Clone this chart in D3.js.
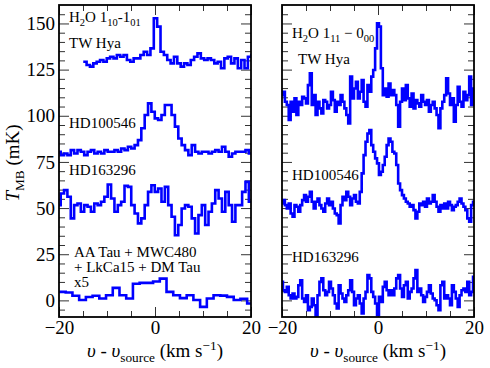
<!DOCTYPE html>
<html><head><meta charset="utf-8">
<script src="https://cdn.jsdelivr.net/npm/d3@7"></script>
<style>
html,body{margin:0;padding:0;background:#fff;}
svg text{font-family:"Liberation Serif","Times New Roman",serif;fill:#000;}
</style></head>
<body><svg id="c" width="490" height="368"></svg>
<script>
// ---------- data ----------
const xDomain = [-20, 20];
const yDomain = [-9, 160];
const xTickLabels = [-20, 0, 20];
const yTickLabels = [0, 25, 50, 75, 100, 125, 150];

// Left panel: H2O 1_10-1_01 (channel width 0.7 km/s)
const lTwHyaStart = -14.6, lChan = 0.7;
const lTwHya = [129.3,127.5,126.6,128.4,129.3,130.2,129.3,131.1,132,131.1,132.9,132,132.9,130.2,129.3,131.1,131.1,132.9,134.7,132.9,136.5,152.8,148.3,134.7,132.9,130.2,128.4,132,128.4,126.6,128.4,127.5,130.2,132,133.8,131.1,130.2,131.1,130.2,128.4,129.3,125.7,131.1,132,128.4,131.1,125.7,130.2,125.7,132,132.9];
const lStart = -20;
const lHD100546 = [80.5,78.7,79.6,78.7,81.4,79.6,81.4,80.5,78.7,80.5,81.4,79.6,80.5,79.6,81.4,80.5,80.5,81.4,80.5,82.3,81.4,83.2,82.3,84.1,86.8,93.2,100.4,106.7,102.2,98.6,97.7,100.4,105.8,105.8,100.4,94.1,87.7,84.1,81.4,78.7,84.1,80.5,79.6,80.5,80.5,79.6,80.5,81.4,80.5,83.2,80.5,77.8,79.6,80.5,80.5,80.5,81.4,79.6];
const lHD163296 = [51.6,57.9,59.7,56.1,44.4,51.6,52.5,48,51.6,50.7,48,52.5,51.6,53.4,56.1,62.8,55.2,48,51.6,53.4,62.1,61.5,51.6,47.1,41.7,44.4,51.6,58.8,62.4,58.8,60.6,53.4,61.5,51.6,45.3,35.3,40.8,49.8,51.6,50.7,44.4,36.2,46.2,51.6,40.8,48,52.5,59.7,55.2,48,58.8,51.6,42.6,51.6,51.6,58.8,64.2,53.4];
// Stacked AA Tau + MWC480 + LkCa15 + DM Tau (x5), channel width 1.4 km/s
const lStackStart = -19.3, lStackChan = 1.4;
const lStack = [4.6,4.3,2.5,0.2,1.8,2.5,1.0,2.8,6.8,2.8,1.0,9.0,9.5,9.5,10.2,11.8,4.6,2.8,1.2,2.8,0.2,-3.5,1.0,2.8,2.6,1.9,0.2,0.8,-1.7];

// Right panel: H2O 1_11-0_00 (channel width 0.4 km/s)
const rStart = -20, rChan = 0.4;
const rTwHya = [111.2,113,107.6,105.8,97.7,107.6,102.2,109.4,100.4,107.6,105.8,110.3,109.4,106.7,116.6,123,105.8,111.2,100.4,107.6,104,101.3,108.5,107.6,104,105.8,113,108.5,102.2,107.6,105.8,111.2,107.6,104,100.4,95.9,121.2,109.4,114.8,118.4,109.4,113,119.3,107.6,104.9,116.6,113,121.2,124.8,136.5,150.1,148.3,125.7,111.2,114.8,110.3,117.5,111.2,113.9,111.2,105.8,94.1,107.6,114.8,108.5,116.6,109.4,104.9,112.1,104,108.5,106.7,104.9,111.2,107.6,105.8,108.5,102.2,105.8,107.6,104,100.4,93.2,104,107.6,111.2,120.3,112.1,105.8,109.4,96.8,105.8,115.7,107.6,104.9,113,108.5,111.2,121.2,105.8,114.8];
const rHD100546 = [52.5,54.3,51.6,49.8,52.5,47.1,45.3,51.6,50.7,48,51.6,54.3,57,53.4,56.1,58.8,53.4,49.8,53.4,55.2,51.6,49.8,48,52.5,55.2,51.6,53.4,49.8,47.1,46.2,41.7,51.6,56.1,54.3,58.8,56.1,51.6,55.2,57,53.4,52.5,58.8,68.8,78.7,85.9,90.4,92.2,84.1,80.5,76.9,74.2,67.9,69.7,73.3,77.8,84.1,87.7,85.9,80.5,79.6,73.3,63.3,59.7,57,55.2,53.4,52.5,50.7,51.6,48.9,44.4,48,52.5,51.6,53.4,50.7,55.2,52.5,53.4,57,53.4,50.7,48,51.6,49.8,52.5,49.8,53.4,51.6,48.9,50.7,51.6,53.4,55.2,52.5,50.7,48.9,44.4,42.6,51.6,53.4];
const rHD163296 = [10,5.5,4.6,7.3,2.8,1,3.7,1,1.9,8.2,10.9,1,-0.8,2.8,-5.3,-3.5,1,-2.6,-9.8,2.8,10,11.9,5.5,2.8,4.6,10,6.4,2.8,-1.7,-4.4,8.2,3.7,1,-0.8,2.8,5.5,10.9,4.6,-2.6,1,2.8,-1.7,-7.1,1,4.6,13.7,11.9,4.6,1.9,-1.7,-8,1.9,-0.8,7.3,10,5.5,2.8,5.5,2.8,6.4,11.9,13.7,6.4,1.9,8.2,10,1,4.6,6.4,11.9,16.4,4.6,6.4,2.8,-0.8,1.9,4.6,8.2,3.7,1,0.1,-2.6,-5.3,8.2,10,1,2.8,1,-2.6,8.2,4.6,1,-3.5,2.8,5.5,6.4,4.6,10,2.8,4.6,12.8];

// ---------- drawing ----------
const svg = d3.select('#c');
const yTop = 5, yBottom = 317;
const y = d3.scaleLinear().domain(yDomain).range([yBottom, yTop]);
const panels = [
  {x0: 59, x1: 251, labelsY: true, id: 'L',
   series: [
     {start: lTwHyaStart, dv: lChan, vals: lTwHya},
     {start: lStart, dv: lChan, vals: lHD100546},
     {start: lStart, dv: lChan, vals: lHD163296},
     {start: lStackStart, dv: lStackChan, vals: lStack}
   ]},
  {x0: 282, x1: 474, labelsY: false, id: 'R',
   series: [
     {start: rStart, dv: rChan, vals: rTwHya},
     {start: rStart, dv: rChan, vals: rHD100546},
     {start: rStart, dv: rChan, vals: rHD163296}
   ]}
];

function stepPoints(s) {
  const pts = [];
  s.vals.forEach((v, i) => {
    const c = s.start + i * s.dv;
    pts.push([c - s.dv / 2, v], [c + s.dv / 2, v]);
  });
  return pts;
}

function rich(sel, parts, size) {
  let shift = 0;
  parts.forEach(p => {
    const ts = sel.append('tspan').text(p.t);
    const target = p.sub ? size * 0.28 : p.sup ? -size * 0.38 : 0;
    if (target - shift !== 0) ts.attr('dy', target - shift);
    shift = target;
    if (p.sub || p.sup) ts.attr('font-size', size * 0.7);
    if (p.it) ts.attr('font-style', 'italic');
  });
}

const majorLen = 10, minorLen = 6;
const yMinor = d3.range(-5, 160, 5).filter(v => v % 25 !== 0);
const xMinor = d3.range(-15, 20, 5).filter(v => v % 20 !== 0);

panels.forEach(p => {
  const x = d3.scaleLinear().domain(xDomain).range([p.x0, p.x1]);
  const g = svg.append('g');
  svg.append('clipPath').attr('id', 'clip' + p.id)
    .append('rect').attr('x', p.x0).attr('y', yTop).attr('width', p.x1 - p.x0).attr('height', yBottom - yTop);

  const tickStyle = a => {
    a.select('.domain').remove();
    a.selectAll('.tick line').attr('stroke', '#333').attr('stroke-width', 1);
  };
  const yl = g.append('g').attr('transform', `translate(${p.x0},0)`)
    .call(d3.axisLeft(y).tickValues(yTickLabels).tickSize(-majorLen).tickPadding(4)
      .tickFormat(p.labelsY ? d3.format('d') : ''));
  tickStyle(yl);
  yl.selectAll('text').attr('font-size', 19).attr('font-family', '"Liberation Serif",serif').attr('fill', '#000');
  g.append('g').attr('transform', `translate(${p.x0},0)`)
    .call(d3.axisLeft(y).tickValues(yMinor).tickSize(-minorLen).tickFormat('')).call(tickStyle);
  g.append('g').attr('transform', `translate(${p.x1},0)`)
    .call(d3.axisRight(y).tickValues(yTickLabels).tickSize(-majorLen).tickFormat('')).call(tickStyle);
  g.append('g').attr('transform', `translate(${p.x1},0)`)
    .call(d3.axisRight(y).tickValues(yMinor).tickSize(-minorLen).tickFormat('')).call(tickStyle);
  const xb = g.append('g').attr('transform', `translate(0,${yBottom})`)
    .call(d3.axisBottom(x).tickValues(xTickLabels).tickSize(-majorLen).tickPadding(3)
      .tickFormat(d => d < 0 ? '\u2212' + Math.abs(d) : String(d)));
  tickStyle(xb);
  xb.selectAll('text').attr('font-size', 19).attr('font-family', '"Liberation Serif",serif').attr('fill', '#000');
  g.append('g').attr('transform', `translate(0,${yBottom})`)
    .call(d3.axisBottom(x).tickValues(xMinor).tickSize(-minorLen).tickFormat('')).call(tickStyle);
  g.append('g').attr('transform', `translate(0,${yTop})`)
    .call(d3.axisTop(x).tickValues(xTickLabels).tickSize(-majorLen).tickFormat('')).call(tickStyle);
  g.append('g').attr('transform', `translate(0,${yTop})`)
    .call(d3.axisTop(x).tickValues(xMinor).tickSize(-minorLen).tickFormat('')).call(tickStyle);

  const line = d3.line().x(d => x(d[0])).y(d => y(d[1]));
  const sg = svg.append('g').attr('clip-path', `url(#clip${p.id})`);
  p.series.forEach(s => {
    sg.append('path').attr('d', line(stepPoints(s)))
      .attr('fill', 'none').attr('stroke', '#0000ff').attr('stroke-width', 2.6)
      .attr('stroke-linejoin', 'miter');
  });

  svg.append('rect').attr('x', p.x0).attr('y', yTop).attr('width', p.x1 - p.x0).attr('height', yBottom - yTop)
    .attr('fill', 'none').attr('stroke', '#000').attr('stroke-width', 1.8);

  const xt = svg.append('text').attr('x', (p.x0 + p.x1) / 2).attr('y', 357)
    .attr('text-anchor', 'middle').attr('font-size', 19);
  rich(xt, [{t: '\u03C5', it: true}, {t: ' - '}, {t: '\u03C5', it: true}, {t: 'source', sub: true},
            {t: ' (km s'}, {t: '\u22121', sup: true}, {t: ')'}], 19);
});

const yt = svg.append('text').attr('transform', 'translate(19,163) rotate(-90)')
  .attr('text-anchor', 'middle').attr('font-size', 19);
rich(yt, [{t: 'T', it: true}, {t: 'MB', sub: true}, {t: ' (mK)'}], 19);

const annFs = 15;
function ann(xp, yp, parts) {
  const t = svg.append('text').attr('x', xp).attr('y', yp).attr('font-size', annFs);
  rich(t, parts, annFs);
}
ann(69, 22, [{t: 'H'}, {t: '2', sub: true}, {t: 'O 1'}, {t: '10', sub: true}, {t: '-1'}, {t: '01', sub: true}]);
ann(69, 48, [{t: 'TW Hya'}]);
ann(69, 128, [{t: 'HD100546'}]);
ann(69, 175, [{t: 'HD163296'}]);
ann(74, 257, [{t: 'AA Tau + MWC480'}]);
ann(74, 272, [{t: '+ LkCa15 + DM Tau'}]);
ann(74, 287, [{t: 'x5'}]);
ann(292, 38, [{t: 'H'}, {t: '2', sub: true}, {t: 'O 1'}, {t: '11', sub: true}, {t: ' \u2212 0'}, {t: '00', sub: true}]);
ann(298, 64, [{t: 'TW Hya'}]);
ann(292, 180, [{t: 'HD100546'}]);
ann(292, 262, [{t: 'HD163296'}]);
</script></body></html>
